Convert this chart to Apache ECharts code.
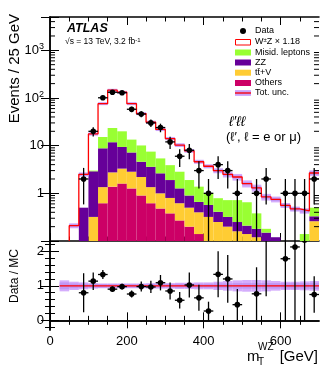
<!DOCTYPE html>
<html>
<head>
<meta charset="utf-8">
<script src="https://cdn.jsdelivr.net/npm/echarts@6.0.0/dist/echarts.min.js"></script>
<style>
  html, body { margin: 0; padding: 0; background: #fff; }
  #main { width: 332px; height: 370px; }
</style>
</head>
<body>
<div id="main"></div>
<script>
// 25 GeV bins, lower edges
const binLow = [25, 50, 75, 100, 125, 150, 175, 200, 225, 250, 275, 300, 325, 350, 375, 400, 425, 450, 475, 500, 525, 550, 575, 600, 625, 650, 675];
const binWidth = 25;

// expected events per bin (stack order: bottom -> top)
const others = [0, 0, 0.02, 0.06, 0.62, 1.38, 1.6, 1.27, 0.9, 0.62, 0.48, 0.38, 0.27, 0.2, 0.14, 0.09, 0.07, 0.06, 0.05, 0.04, 0.03, 0.02, 0.02, 0.02, 0.01, 0.01, 0.05];
const ttV = [0, 0, 0.03, 0.26, 0.73, 1.37, 1.7, 1.57, 1.3, 0.73, 0.52, 0.42, 0.35, 0.3, 0.26, 0.23, 0.18, 0.14, 0.11, 0.1, 0.09, 0.08, 0.06, 0.04, 0.04, 0.03, 0.21];
const zz = [0, 0.03, 0.45, 2.58, 7.45, 9.05, 6.1, 4.36, 2.4, 2.25, 1.63, 1.1, 0.65, 0.4, 0.26, 0.25, 0.16, 0.12, 0.09, 0.07, 0.06, 0.05, 0.04, 0.04, 0.03, 0.03, 0.07];
const misid = [0, 0, 0, 0.1, 6.4, 11.7, 10.6, 6.2, 5.5, 3.9, 2.77, 2.0, 1.57, 1.0, 0.72, 0.43, 0.38, 0.4, 0.47, 0.44, 0.2, 0.03, 0, 0, 0, 0.07, 0.17];
const wz = [0.05, 0.18, 2.0, 14.6, 60.8, 122.5, 112, 62.6, 36.9, 23.5, 16.6, 10.2, 7.46, 5.9, 3.22, 2.7, 2.21, 1.78, 1.48, 0.95, 0.92, 0.66, 0.63, 0.46, 0.39, 0.29, 2.17];
// relative uncertainties: total (outer band) and inner part
const totUnc = [0.16, 0.12, 0.1, 0.08, 0.07, 0.07, 0.07, 0.07, 0.07, 0.08, 0.08, 0.08, 0.09, 0.09, 0.1, 0.1, 0.12, 0.14, 0.16, 0.17, 0.17, 0.16, 0.14, 0.12, 0.12, 0.13, 0.14];
const innerUnc = [0.1, 0.07, 0.06, 0.05, 0.05, 0.05, 0.05, 0.05, 0.05, 0.05, 0.05, 0.05, 0.06, 0.06, 0.06, 0.06, 0.07, 0.07, 0.08, 0.08, 0.08, 0.08, 0.08, 0.08, 0.08, 0.08, 0.09];
// observed events
const dataCounts = [0, 0, 2, 20, 101, 132, 129, 58, 46, 30, 24, 12, 6, 8, 3, 1, 4, 3, 1, 0, 1, 2, 0, 1, 1, 1, 2];

const xTicks = [0, 200, 400, 600];
const xMinorTicks = [50, 100, 150, 250, 300, 350, 450, 500, 550, 650];
const ratioTicks = [0, 1, 2];
const ratioMinorTicks = [-0.2, 0.2, 0.4, 0.6, 0.8, 1.2, 1.4, 1.6, 1.8, 2.2];

const FONT = 'Liberation Sans, Arial, sans-serif';
const xMin = 0, xMax = 700;
const yMinUp = 0.1, yMaxUp = 5000;
const yMinLo = -0.28, yMaxLo = 2.3;

const layers = [
  { vals: others, color: '#cc0066' },
  { vals: ttV, color: '#ffcc33' },
  { vals: zz, color: '#660099' },
  { vals: misid, color: '#99ff33' }
];
const bandColor = '#d4adfc';
const bandInner = '#c196f4';

function boxRenderer(floor) {
  return function (params, api) {
    const lo = api.value(0), hi = api.value(1);
    let b = api.value(2), t = api.value(3);
    if (floor !== null) { b = Math.max(b, floor); t = Math.max(t, floor); }
    if (!(t > b)) return { type: 'group', children: [] };
    const p0 = api.coord([lo, t]);
    const p1 = api.coord([hi, b]);
    return {
      type: 'rect',
      shape: { x: p0[0], y: p0[1], width: p1[0] - p0[0], height: p1[1] - p0[1] },
      style: { fill: api.visual('color') }
    };
  };
}

function pointRenderer(floor) {
  return function (params, api) {
    const x = api.value(0), y = api.value(1);
    let lo = api.value(2);
    const hi = api.value(3);
    if (floor !== null) lo = Math.max(lo, floor);
    const c = api.coord([x, y]);
    const a = api.coord([x, lo]);
    const b = api.coord([x, hi]);
    const l = api.coord([x - binWidth / 2, y]);
    const r = api.coord([x + binWidth / 2, y]);
    return {
      type: 'group',
      children: [
        { type: 'line', shape: { x1: a[0], y1: a[1], x2: b[0], y2: b[1] }, style: { stroke: '#000', lineWidth: 1.3 } },
        { type: 'line', shape: { x1: l[0], y1: l[1], x2: r[0], y2: r[1] }, style: { stroke: '#000', lineWidth: 1.3 } },
        { type: 'circle', shape: { cx: c[0], cy: c[1], r: 2.8 }, style: { fill: '#000' } }
      ]
    };
  };
}

// stacked backgrounds
const cum = binLow.map(() => 0);
const stackSeries = layers.map(layer => {
  const items = binLow.map((lo, i) => {
    const base = cum[i];
    cum[i] += layer.vals[i];
    return [lo, lo + binWidth, base, cum[i]];
  });
  return {
    type: 'custom', xAxisIndex: 0, yAxisIndex: 0, clip: true, silent: true, z: 2,
    itemStyle: { color: layer.color },
    encode: { x: [0, 1], y: [2, 3] },
    renderItem: boxRenderer(0.01),
    data: items
  };
});
const total = binLow.map((lo, i) => cum[i] + wz[i]);

// uncertainty band + total line (upper)
const bandUp = binLow.map((lo, i) => [lo, lo + binWidth, total[i] * (1 - totUnc[i]), total[i] * (1 + totUnc[i])]);
const bandUpInner = binLow.map((lo, i) => [lo, lo + binWidth, total[i] * (1 - innerUnc[i]), total[i] * (1 + innerUnc[i])]);
const totalLine = [];
binLow.forEach((lo, i) => {
  if (total[i] < yMinUp) return;
  if (totalLine.length === 0) totalLine.push([lo, yMinUp]);
  totalLine.push([lo, total[i]], [lo + binWidth, total[i]]);
});

// data points
const dataUp = [], dataRatio = [];
binLow.forEach((lo, i) => {
  const n = dataCounts[i];
  if (n <= 0) return;
  const c = lo + binWidth / 2, e = Math.sqrt(n);
  dataUp.push([c, n, n - e, n + e]);
  dataRatio.push([c, n / total[i], (n - e) / total[i], (n + e) / total[i]]);
});

// ratio bands
const bandLo = binLow.map((lo, i) => [lo, lo + binWidth, 1 - totUnc[i], 1 + totUnc[i]]);
const bandLoInner = binLow.map((lo, i) => [lo, lo + binWidth, 1 - innerUnc[i], 1 + innerUnc[i]]);

// log minor ticks (2..9 x 10^n)
const logMinor = [];
for (let e = -1; e <= 3; e++) {
  for (let k = 2; k <= 9; k++) {
    const v = k * Math.pow(10, e);
    if (v > yMinUp && v < yMaxUp) logMinor.push([xMin, v]);
  }
}

const axisLineStyle = { show: true, lineStyle: { color: '#000', width: 1.5 } };

function xAx(grid, pos, vals, len, line, labels) {
  return {
    type: 'value', gridIndex: grid, position: pos, min: xMin, max: xMax,
    axisLine: line ? axisLineStyle : { show: false },
    axisTick: { show: true, inside: true, length: len, customValues: vals, lineStyle: { color: '#000', width: 1 } },
    axisLabel: labels
      ? { show: true, customValues: xTicks, fontSize: 13, fontFamily: FONT, color: '#000', margin: 5 }
      : { show: false },
    splitLine: { show: false }
  };
}
function yLo(pos, vals, len, line, labels) {
  return {
    type: 'value', gridIndex: 1, position: pos, min: yMinLo, max: yMaxLo,
    axisLine: line ? axisLineStyle : { show: false },
    axisTick: { show: true, inside: true, length: len, customValues: vals, lineStyle: { color: '#000', width: 1 } },
    axisLabel: labels
      ? { show: true, customValues: ratioTicks, fontSize: 13, fontFamily: FONT, color: '#000', margin: 6 }
      : { show: false },
    splitLine: { show: false }
  };
}
function logLabel(v) {
  const lg = Math.log10(v), e = Math.round(lg);
  if (Math.abs(lg - e) > 1e-6 || e < 0) return '';
  if (e === 0) return '1';
  if (e === 1) return '10';
  return '10{s|' + e + '}';
}
function yUp(pos, labels) {
  return {
    type: 'log', logBase: 10, gridIndex: 0, position: pos, min: yMinUp, max: yMaxUp,
    axisLine: axisLineStyle,
    axisTick: { show: true, inside: true, length: 9, lineStyle: { color: '#000', width: 1 } },
    axisLabel: labels
      ? {
          show: true, formatter: logLabel, fontSize: 13, fontFamily: FONT, color: '#000', margin: 6,
          lineHeight: 16,
          rich: { s: { fontSize: 9, fontFamily: FONT, color: '#000', verticalAlign: 'top', lineHeight: 10 } }
        }
      : { show: false },
    splitLine: { show: false }
  };
}

const option = {
  animation: false,
  backgroundColor: '#fff',
  grid: [
    { left: 50, top: 17, width: 269, height: 224, outerBoundsMode: 'none' },
    { left: 50, top: 241, width: 269, height: 89, outerBoundsMode: 'none' }
  ],
  xAxis: [
    xAx(0, 'bottom', xTicks, 8, true, false),
    xAx(0, 'bottom', xMinorTicks, 4.5, false, false),
    xAx(0, 'top', xTicks, 8, true, false),
    xAx(0, 'top', xMinorTicks, 4.5, false, false),
    xAx(1, 'bottom', xTicks, 8, true, true),
    xAx(1, 'bottom', xMinorTicks, 4.5, false, false),
    xAx(1, 'top', xTicks, 8, true, false),
    xAx(1, 'top', xMinorTicks, 4.5, false, false)
  ],
  yAxis: [
    yUp('left', true),
    yUp('right', false),
    yLo('left', ratioTicks, 9, true, true),
    yLo('left', ratioMinorTicks, 5, false, false),
    yLo('right', ratioTicks, 9, true, false),
    yLo('right', ratioMinorTicks, 5, false, false)
  ],
  series: [
    ...stackSeries,
    {
      type: 'custom', xAxisIndex: 0, yAxisIndex: 0, clip: true, silent: true, z: 3,
      itemStyle: { color: bandColor }, encode: { x: [0, 1], y: [2, 3] },
      renderItem: boxRenderer(0.01), data: bandUp
    },
    {
      type: 'custom', xAxisIndex: 0, yAxisIndex: 0, clip: true, silent: true, z: 3,
      itemStyle: { color: bandInner }, encode: { x: [0, 1], y: [2, 3] },
      renderItem: boxRenderer(0.01), data: bandUpInner
    },
    {
      type: 'line', xAxisIndex: 0, yAxisIndex: 0, clip: true, silent: true, z: 4,
      symbol: 'none', lineStyle: { color: '#ff0000', width: 1.3 }, data: totalLine
    },
    {
      type: 'custom', xAxisIndex: 0, yAxisIndex: 0, clip: true, silent: true, z: 6,
      encode: { x: 0, y: [1, 2, 3] }, renderItem: pointRenderer(0.01), data: dataUp
    },
    {
      // log minor ticks on both sides
      type: 'custom', xAxisIndex: 0, yAxisIndex: 0, clip: false, silent: true, z: 7,
      encode: { x: 0, y: 1 },
      renderItem: function (params, api) {
        const v = api.value(1);
        const a = api.coord([xMin, v]);
        const b = api.coord([xMax, v]);
        return {
          type: 'group',
          children: [
            { type: 'line', shape: { x1: a[0], y1: a[1], x2: a[0] + 5, y2: a[1] }, style: { stroke: '#000', lineWidth: 1 } },
            { type: 'line', shape: { x1: b[0], y1: b[1], x2: b[0] - 5, y2: b[1] }, style: { stroke: '#000', lineWidth: 1 } }
          ]
        };
      },
      data: logMinor
    },
    {
      type: 'custom', xAxisIndex: 4, yAxisIndex: 2, clip: true, silent: true, z: 3,
      itemStyle: { color: bandColor }, encode: { x: [0, 1], y: [2, 3] },
      renderItem: boxRenderer(null), data: bandLo
    },
    {
      type: 'custom', xAxisIndex: 4, yAxisIndex: 2, clip: true, silent: true, z: 3,
      itemStyle: { color: bandInner }, encode: { x: [0, 1], y: [2, 3] },
      renderItem: boxRenderer(null), data: bandLoInner
    },
    {
      type: 'line', xAxisIndex: 4, yAxisIndex: 2, clip: true, silent: true, z: 4,
      symbol: 'none', lineStyle: { color: '#ff0000', width: 1.2 },
      data: [[binLow[0], 1], [xMax, 1]]
    },
    {
      type: 'custom', xAxisIndex: 4, yAxisIndex: 2, clip: true, silent: true, z: 6,
      encode: { x: 0, y: [1, 2, 3] }, renderItem: pointRenderer(null), data: dataRatio
    }
  ],
  graphic: [
    {
      type: 'text', x: 15, y: 14, rotation: Math.PI / 2,
      style: { text: 'Events / 25 GeV', font: '15px ' + FONT, fill: '#000', align: 'right', verticalAlign: 'middle' }
    },
    {
      type: 'text', x: 15, y: 276, rotation: Math.PI / 2,
      style: { text: 'Data / MC', font: '12px ' + FONT, fill: '#000', align: 'center', verticalAlign: 'middle' }
    },
    { type: 'text', x: 247, y: 357, style: { text: 'm', font: '15px ' + FONT, fill: '#000', verticalAlign: 'middle' } },
    { type: 'text', x: 258, y: 347, style: { text: 'WZ', font: '10px ' + FONT, fill: '#000', verticalAlign: 'middle' } },
    { type: 'text', x: 258, y: 362, style: { text: 'T', font: '10px ' + FONT, fill: '#000', verticalAlign: 'middle' } },
    { type: 'text', x: 318, y: 357, style: { text: '[GeV]', font: '15px ' + FONT, fill: '#000', align: 'right', verticalAlign: 'middle' } },
    { type: 'text', x: 67, y: 29, style: { text: 'ATLAS', font: 'italic bold 12.5px ' + FONT, fill: '#000', verticalAlign: 'middle' } },
    {
      type: 'text', x: 65, y: 42,
      style: {
        text: '\u221As = 13 TeV, 3.2 fb{s|-1}', font: '8.5px ' + FONT, fill: '#000', verticalAlign: 'middle',
        rich: { s: { fontSize: 6, fontFamily: FONT, verticalAlign: 'top', lineHeight: 6 } }
      }
    },
    { type: 'text', x: 229, y: 122, style: { text: '\u2113\u2032\u2113\u2113', font: 'italic 14px ' + FONT, fill: '#000', verticalAlign: 'middle' } },
    { type: 'text', x: 226, y: 137, style: { text: '(\u2113\u2032, \u2113 = e or \u03BC)', font: '13px ' + FONT, fill: '#000', verticalAlign: 'middle' } },
    // legend
    { type: 'circle', shape: { cx: 243, cy: 31, r: 3 }, style: { fill: '#000' } },
    { type: 'text', x: 255, y: 31, style: { text: 'Data', font: '9px ' + FONT, fill: '#000', verticalAlign: 'middle' } },
    { type: 'rect', shape: { x: 235.5, y: 39.5, width: 15, height: 5.5 }, style: { fill: '#fff', stroke: '#ff0000', lineWidth: 1 } },
    {
      type: 'text', x: 255, y: 42,
      style: {
        text: 'W{s|\u00B1}Z \u00D7 1.18', font: '9px ' + FONT, fill: '#000', verticalAlign: 'middle',
        rich: { s: { fontSize: 6, fontFamily: FONT, verticalAlign: 'top', lineHeight: 6 } }
      }
    },
    { type: 'rect', shape: { x: 235, y: 49.5, width: 16, height: 6 }, style: { fill: '#99ff33' } },
    { type: 'text', x: 255, y: 52.5, style: { text: 'Misid. leptons', font: '9px ' + FONT, fill: '#000', verticalAlign: 'middle' } },
    { type: 'rect', shape: { x: 235, y: 59.5, width: 16, height: 6 }, style: { fill: '#660099' } },
    { type: 'text', x: 255, y: 62.5, style: { text: 'ZZ', font: '9px ' + FONT, fill: '#000', verticalAlign: 'middle' } },
    { type: 'rect', shape: { x: 235, y: 69.7, width: 16, height: 6 }, style: { fill: '#ffcc33' } },
    { type: 'text', x: 255, y: 72.7, style: { text: 'tt\u0304+V', font: '9px ' + FONT, fill: '#000', verticalAlign: 'middle' } },
    { type: 'rect', shape: { x: 235, y: 80, width: 16, height: 6 }, style: { fill: '#cc0066' } },
    { type: 'text', x: 255, y: 83, style: { text: 'Others', font: '9px ' + FONT, fill: '#000', verticalAlign: 'middle' } },
    { type: 'rect', shape: { x: 235, y: 90, width: 16, height: 6 }, style: { fill: bandColor } },
    { type: 'rect', shape: { x: 235, y: 91.5, width: 16, height: 3 }, style: { fill: bandInner } },
    { type: 'line', shape: { x1: 235, y1: 93, x2: 251, y2: 93 }, style: { stroke: '#ff0000', lineWidth: 1.3 } },
    { type: 'text', x: 255, y: 93, style: { text: 'Tot. unc.', font: '9px ' + FONT, fill: '#000', verticalAlign: 'middle' } }
  ]
};

const chart = echarts.init(document.getElementById('main'));
chart.setOption(option);
</script>
</body>
</html>
